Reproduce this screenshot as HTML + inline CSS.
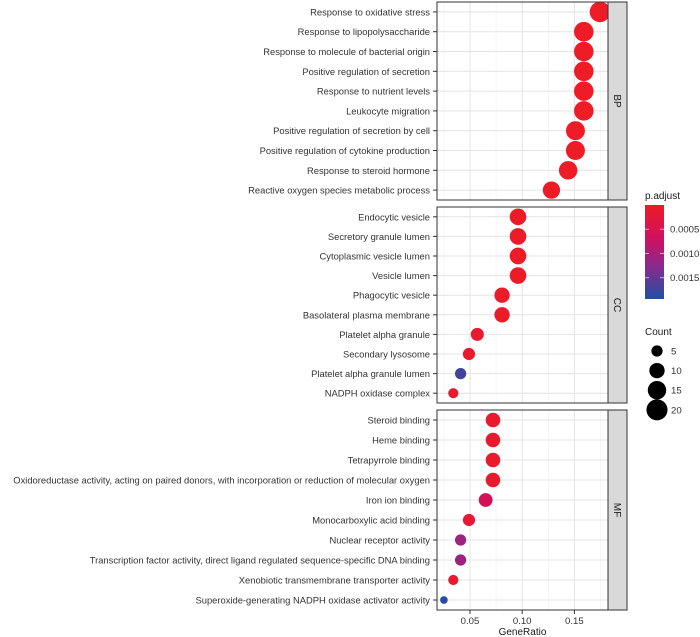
<!DOCTYPE html>
<html><head><meta charset="utf-8"><style>
body{margin:0;background:#fff;}
svg{display:block;font-family:"Liberation Sans",Arial,sans-serif;}
</style></head><body>
<svg id="chart" width="700" height="637" viewBox="0 0 700 637" xmlns="http://www.w3.org/2000/svg">
<defs>
<linearGradient id="pg" x1="0" y1="0" x2="0" y2="1">
<stop offset="0" stop-color="#ee1c25"/><stop offset="0.35" stop-color="#d01060"/><stop offset="0.65" stop-color="#8a2a8e"/><stop offset="1" stop-color="#1f4fa3"/>
</linearGradient>
</defs>
<g id="plot"></g>
</svg>
<script>
const bpTerms=["Response to oxidative stress","Response to lipopolysaccharide","Response to molecule of bacterial origin","Positive regulation of secretion","Response to nutrient levels","Leukocyte migration","Positive regulation of secretion by cell","Positive regulation of cytokine production","Response to steroid hormone","Reactive oxygen species metabolic process"];
const bpRatio=[0.1745,0.159,0.159,0.159,0.159,0.159,0.151,0.151,0.144,0.128];
const bpCount=[19,17,17,17,17,17,16,16,15,13];
const bpP=[0.00002,0.00002,0.00002,0.00002,0.00002,0.00002,0.00002,0.00002,0.00002,0.00003];
const ccTerms=["Endocytic vesicle","Secretory granule lumen","Cytoplasmic vesicle lumen","Vesicle lumen","Phagocytic vesicle","Basolateral plasma membrane","Platelet alpha granule","Secondary lysosome","Platelet alpha granule lumen","NADPH oxidase complex"];
const ccRatio=[0.096,0.096,0.096,0.096,0.0807,0.0807,0.057,0.049,0.041,0.034];
const ccCount=[12,12,12,12,10,10,7,6,5,4];
const ccP=[0.00003,0.00003,0.00003,0.00003,0.00005,0.00005,0.0001,0.0001,0.0017,0.0001];
const mfTerms=["Steroid binding","Heme binding","Tetrapyrrole binding","Oxidoreductase activity, acting on paired donors, with incorporation or reduction of molecular oxygen","Iron ion binding","Monocarboxylic acid binding","Nuclear receptor activity","Transcription factor activity, direct ligand regulated sequence-specific DNA binding","Xenobiotic transmembrane transporter activity","Superoxide-generating NADPH oxidase activator activity"];
const mfRatio=[0.072,0.072,0.072,0.072,0.065,0.049,0.041,0.041,0.034,0.025];
const mfCount=[9,9,9,9,8,6,5,5,4,2];
const mfP=[0.0001,0.0001,0.0001,0.0001,0.0006,0.0002,0.0011,0.0011,0.0001,0.0019];
const xTicks=[0.05,0.10,0.15];
const xTickLabels=["0.05","0.10","0.15"];
const pTicks=[0.0005,0.0010,0.0015];
const pTickLabels=["0.0005","0.0010","0.0015"];
const sizeBreaks=[5,10,15,20];

const NS="http://www.w3.org/2000/svg";
const root=document.getElementById('plot');
function el(t,a,p){const e=document.createElementNS(NS,t);for(const k in a)e.setAttribute(k,a[k]);(p||root).appendChild(e);return e;}
const PL=437,PR=608,SR=627;
const x=v=>470+(v-0.05)*1044;
const r=c=>Math.sqrt(c)*2.2+0.7;
const pMax=0.00194;
function col(p){
  const t=Math.min(1,Math.max(0,p/pMax));
  const stops=[[0,[238,28,37]],[0.35,[208,16,96]],[0.65,[138,42,142]],[1,[31,79,163]]];
  for(let i=1;i<stops.length;i++){if(t<=stops[i][0]){const a=stops[i-1],b=stops[i];const f=(t-a[0])/(b[0]-a[0]);return 'rgb('+a[1].map((v,j)=>Math.round(v+(b[1][j]-v)*f)).join(',')+')';}}
  return 'rgb(31,79,163)';
}
const panels=[
 {name:"BP",top:2,bottom:200,terms:bpTerms,ratio:bpRatio,count:bpCount,p:bpP},
 {name:"CC",top:207,bottom:403,terms:ccTerms,ratio:ccRatio,count:ccCount,p:ccP},
 {name:"MF",top:410,bottom:610,terms:mfTerms,ratio:mfRatio,count:mfCount,p:mfP}];
panels.forEach(pn=>{
  const g=el('g',{});
  
  
  el('rect',{x:PL,y:pn.top,width:PR-PL,height:pn.bottom-pn.top,fill:'#fff'},g);
  const n=pn.terms.length, h=(pn.bottom-pn.top)/n;
  const yy=i=>pn.top+h*(i+0.5);
  [0.025,0.075,0.125,0.175].forEach(v=>el('line',{x1:x(v),x2:x(v),y1:pn.top,y2:pn.bottom,stroke:'#f0f0f0','stroke-width':0.6},g));
  xTicks.forEach(v=>el('line',{x1:x(v),x2:x(v),y1:pn.top,y2:pn.bottom,stroke:'#e4e4e4','stroke-width':1},g));
  for(let i=0;i<n;i++) el('line',{x1:PL,x2:PR,y1:yy(i),y2:yy(i),stroke:'#e4e4e4','stroke-width':1},g);
  for(let i=0;i<n;i++){
    const t=el('text',{x:430,y:yy(i)+3.5,'text-anchor':'end','font-size':'9.4',fill:'#333'},g);
    t.textContent=pn.terms[i];
    
    
    el('line',{x1:433,x2:437,y1:yy(i),y2:yy(i),stroke:'#333'},g);
  }
  for(let i=0;i<n;i++){
    const c=el('circle',{cx:x(pn.ratio[i]),cy:yy(i),r:r(pn.count[i]),fill:col(pn.p[i])},g);
    
    
  }
  el('rect',{x:PL,y:pn.top,width:PR-PL,height:pn.bottom-pn.top,fill:'none',stroke:'#333','stroke-width':1},g);
  const s=el('rect',{x:PR,y:pn.top,width:SR-PR,height:pn.bottom-pn.top,fill:'#d9d9d9',stroke:'#333','stroke-width':1},g);
  
  
  const cy=(pn.top+pn.bottom)/2, cx=(PR+SR)/2;
  const st=el('text',{x:cx,y:cy,'text-anchor':'middle','font-size':'10',fill:'#1a1a1a',transform:`rotate(90 ${cx} ${cy})`,dy:'3.5'},g);
  st.textContent=pn.name;
  
  
});
xTicks.forEach((v,i)=>{
  el('line',{x1:x(v),x2:x(v),y1:610,y2:614,stroke:'#333'});
  const t=el('text',{x:x(v),y:624,'text-anchor':'middle','font-size':'9.6',fill:'#333'});
  t.textContent=xTickLabels[i];
  
  
});
const xt=el('text',{x:(PL+PR)/2,y:635,'text-anchor':'middle','font-size':'10',fill:'#1a1a1a'});
xt.textContent='GeneRatio';


const lt=el('text',{x:645,y:199,'font-size':'10',fill:'#1a1a1a'});
lt.textContent='p.adjust';


const bar=el('rect',{x:645,y:205,width:19,height:94,fill:'url(#pg)'});


const py=v=>205+v/pMax*94;
pTicks.forEach((v,i)=>{
  el('line',{x1:645,x2:649,y1:py(v),y2:py(v),stroke:'#fff','stroke-opacity':0.6});
  el('line',{x1:660,x2:664,y1:py(v),y2:py(v),stroke:'#fff','stroke-opacity':0.6});
  const t=el('text',{x:670,y:py(v)+3.5,'font-size':'9.6',fill:'#333'});
  t.textContent=pTickLabels[i];
  
  
});
const ct=el('text',{x:645,y:335,'font-size':'10',fill:'#1a1a1a'});
ct.textContent='Count';


sizeBreaks.forEach((v,i)=>{
  const cy=351+i*19.6;
  const c=el('circle',{cx:657,cy:cy,r:r(v),fill:'#000'});
  
  
  const t=el('text',{x:671,y:cy+3.5,'font-size':'9.6',fill:'#333'});
  t.textContent=String(v);
  
  
});
</script>
</body></html>
